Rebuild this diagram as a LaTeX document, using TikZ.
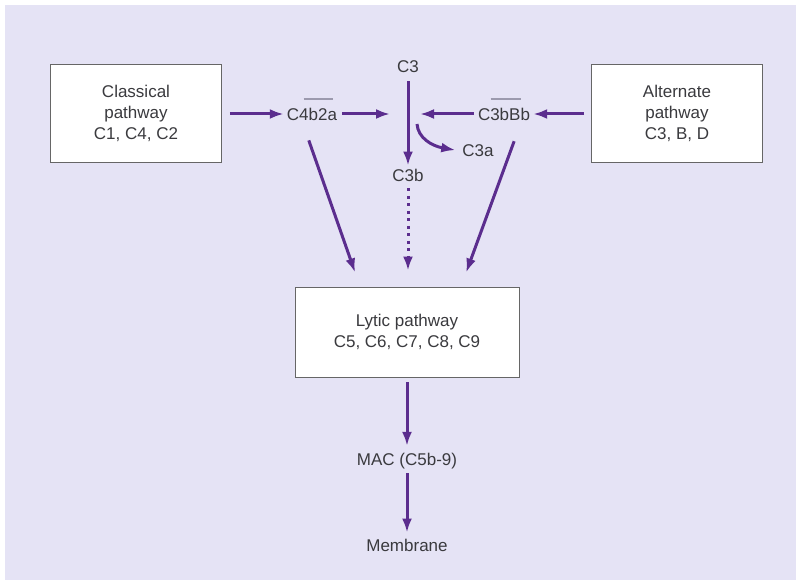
\documentclass[tikz,border=0pt]{standalone}
\usepackage{fontspec}
\setmainfont{Liberation Sans}
\usetikzlibrary{arrows.meta,positioning}
\definecolor{lavender}{HTML}{E5E3F5}
\definecolor{cpurple}{HTML}{5B2D8E}
\definecolor{ctext}{HTML}{3A3A3E}
\definecolor{cbar}{HTML}{9C9AAE}
\newlength{\barlen}
% bar over part of a name: left extension, right extension, text
\newcommand{\hibar}[3]{\settowidth{\barlen}{#3}\addtolength{\barlen}{#1}\addtolength{\barlen}{#2}%
  \kern-#1\rlap{\smash{\textcolor{cbar}{\rule[1.2em]{\barlen}{1.8pt}}}}\kern#1 #3}

\begin{document}
\begin{tikzpicture}[x=1pt,y=-1pt,
  font=\fontsize{17}{21}\selectfont,text=ctext,
  pathbox/.style={draw=black!60,line width=0.9pt,fill=white,
    align=center,minimum width=171pt,minimum height=98pt,inner sep=2pt},
  label/.style={inner sep=2pt},
  flow/.style={-{Latex[length=14pt,width=10pt]},draw=cpurple,line width=3pt},
  dotflow/.style={flow,dash pattern=on 3pt off 4.5pt}]
\useasboundingbox (0,0) rectangle (796,580);
\fill[lavender] (5,5) rectangle (796,580);

\node[pathbox] (classical) at (136,113) {Classical\\pathway\\C1, C4, C2};
\node[pathbox] (alternate) at (677,113) {Alternate\\pathway\\C3, B, D};
\node[pathbox,minimum width=224pt,minimum height=90pt] (lytic) at (407,332) {Lytic pathway\\C5, C6, C7, C8, C9};

\node[label] (c3) at (408,67) {C3};
\node[label] (c4b2a) at (312,114) {C4\hibar{5pt}{5pt}{b2}a};
\node[label] (c3bbb) at (504,114) {C3\hibar{9pt}{0pt}{bB}b};
\node[label] (c3b) at (408,175) {C3b};
\node[label] (c3a) at (478,151) {C3a};
\node[label] (mac) at (407,461) {MAC (C5b-9)};
\node[label] (membrane) at (407,545) {Membrane};
\coordinate (junction) at (408,114);
\coordinate (split) at (417,124);

\draw[flow,shorten <=8pt,shorten >=1pt] (classical.east |- c4b2a.west)--(c4b2a.west);
\draw[flow,shorten <=3pt,shorten >=18pt] (c4b2a.east)--(junction);
\draw[flow,shorten <=2pt,shorten >=12pt] (c3bbb.west)--(junction);
\draw[flow,shorten <=7pt,shorten >=1pt] (alternate.west |- c3bbb.east)--(c3bbb.east);
\draw[flow,shorten <=6pt,shorten >=1pt] (c3.south)--(c3b.north);
\draw[flow,shorten >=5pt] (split) .. controls (418,138) and (432,146) .. (c3a.west);
\draw[dotflow,shorten <=5pt,shorten >=16pt] (c3b.south)--(c3b.south |- lytic.north);
\draw[flow,shorten <=19pt,shorten >=15pt] ([xshift=-9.5pt]c4b2a.south)--([xshift=-47pt]lytic.north);
\draw[flow,shorten <=20pt,shorten >=15pt] ([xshift=17pt]c3bbb.south)--([xshift=54pt]lytic.north);
\draw[flow,shorten <=5pt,shorten >=5pt] (lytic.south)--(mac.north);
\draw[flow,shorten <=2pt,shorten >=4pt] (mac.south)--(membrane.north);
\end{tikzpicture}
\end{document}
